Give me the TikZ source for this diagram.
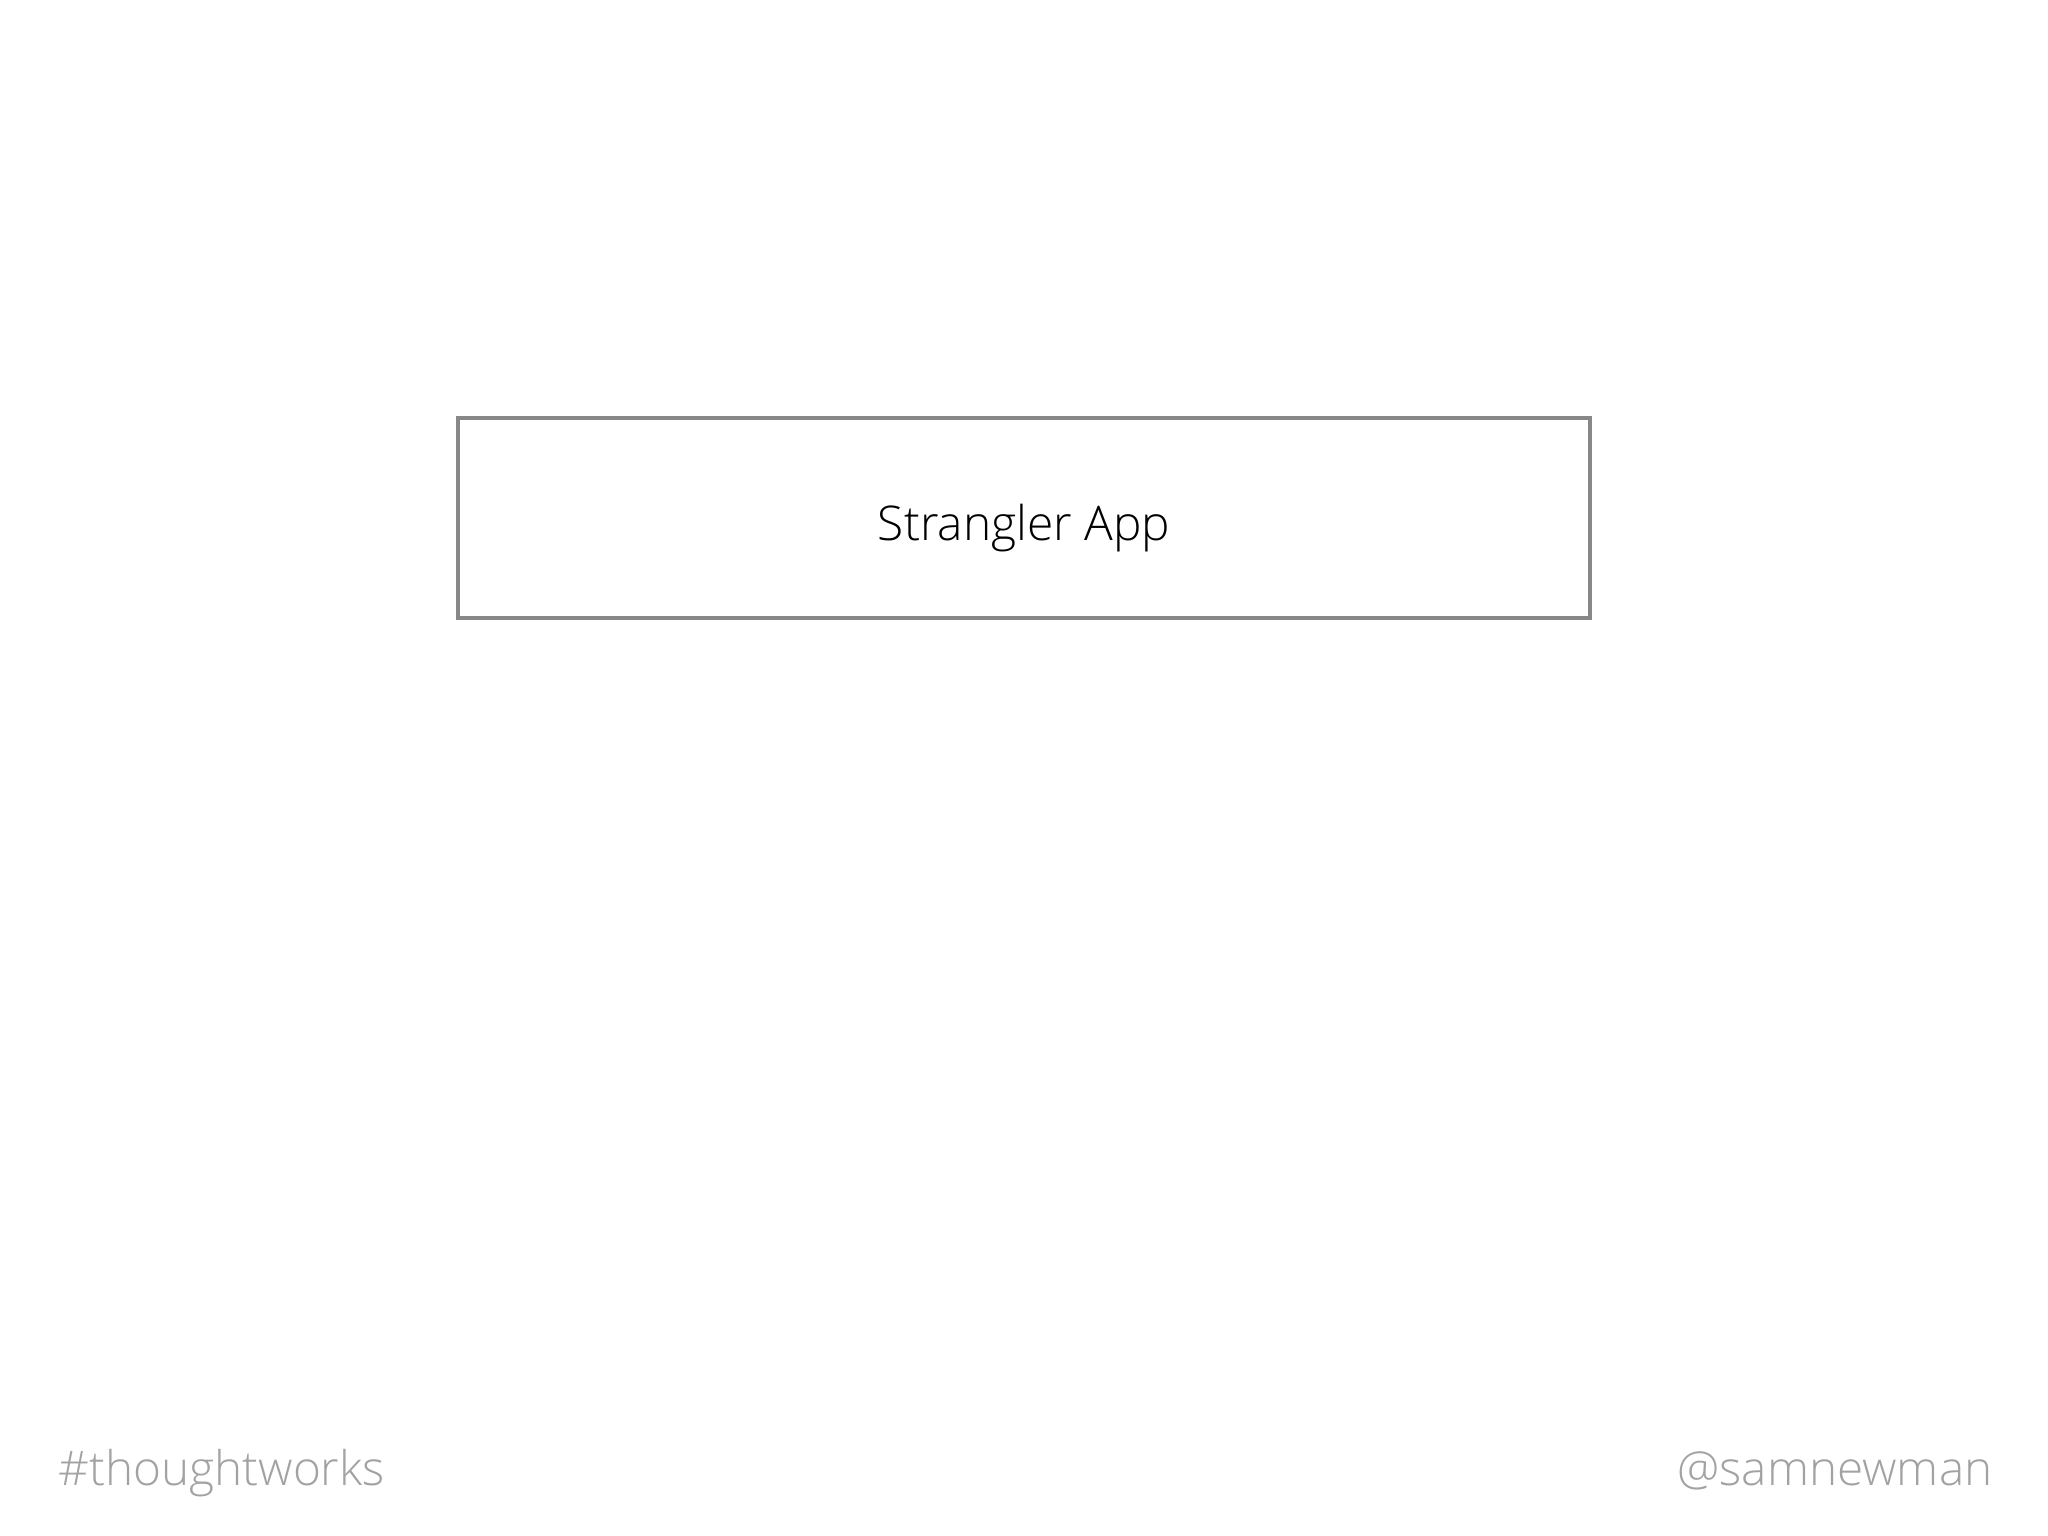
\documentclass[tikz,border=0pt]{standalone}
\usepackage{fontspec}
\setmainfont{Open Sans}[UprightFont={* Light}]
\usepackage{tikz}
\usetikzlibrary{positioning}
\definecolor{boxgray}{HTML}{888888}
\definecolor{footgray}{HTML}{A2A2A2}
\tikzstyle{app}=[draw=boxgray,line width=1.1pt,minimum width=11.32cm,minimum height=2.0cm,
                inner sep=0,text height=0.44cm,text depth=0pt,
                font=\fontsize{13.6}{16}\selectfont,text=black]
\tikzstyle{foot}=[inner sep=0,font=\fontsize{13.55}{16}\selectfont,text=footgray]
\begin{document}
\begin{tikzpicture}[x=0.01cm,y=-0.01cm]
\path[use as bounding box] (0,0) rectangle (2048,1536);

\node[app] (strangler) at (1024,518) {Strangler App};
\node[foot,anchor=base west] (tag) at (58,1485) {\#thoughtworks};
\node[foot,anchor=base east] (handle) at (1993,1485) {@samnewman};
\end{tikzpicture}
\end{document}
